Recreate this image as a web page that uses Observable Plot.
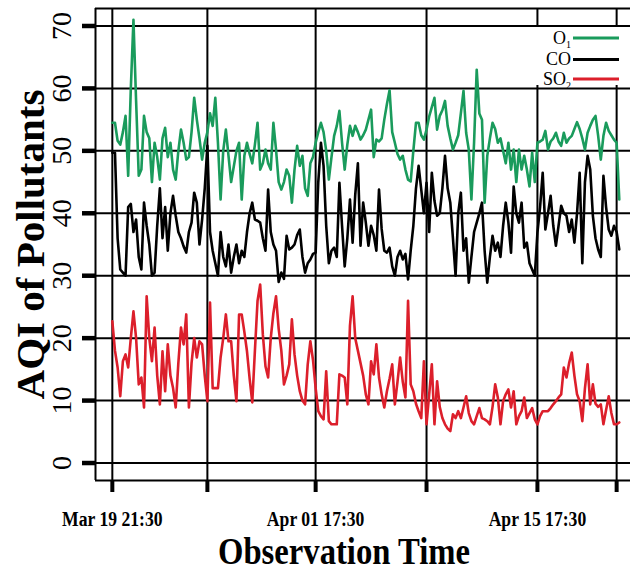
<!DOCTYPE html>
<html>
<head>
<meta charset="utf-8">
<script src="https://cdn.jsdelivr.net/npm/d3@7"></script>
<script src="https://cdn.jsdelivr.net/npm/@observablehq/plot@0.6"></script>
<style>
html, body { margin: 0; padding: 0; background: #fff; }
#wrap { position: relative; width: 630px; height: 571px; overflow: hidden; }
#legend { position: absolute; left: 532px; top: 27px; overflow: visible; }
</style>
</head>
<body>
<div id="wrap"></div>
<script>
// ---- data (AQI values, one observation every 4 hours) ----
const startTime = "2019-03-19T21:30Z";
const stepHours = 4;

const o3 = [54.5,54.5,51.6,51,53,55.6,46,60,71,58,
  46,47,55.6,53,52,45,51.3,49,45.4,52,
  53.7,49,51.3,47,45.4,50,53.4,51.3,48.6,49,
  53,58.5,55,52,48.6,51.3,53,56,54,58.5,
  51.3,42.2,50,53.4,49.2,45,47.5,50,51.3,42.2,
  49.2,51.3,49.5,48,51,54.5,47,48,50.2,48,
  47,54.5,50.2,45,43.8,45,47,46,41.7,47,
  50.8,47.6,49.2,44,42.8,48,49,51.3,53,54.5,
  53,50,45.4,49,52.4,54,56.4,51.3,47,51,
  54,52.4,54,53,51.8,52.5,53.4,55,56.6,49,
  51.8,51.5,52,55,57.5,59.7,53,51.3,49.5,48.6,
  49.2,47,45.4,45.1,50,54.5,54.5,52.5,51.8,53.4,
  55.5,57,58.5,53.4,55.6,56.5,58,54,52,50.2,
  51.3,52.5,56,59.6,52.9,50.2,42.2,51.3,63,56,
  55,41.7,49.2,52,54.5,53.5,51.3,52,50,48,
  51.3,47,50.2,45,50.2,47,49.2,47,44.3,49.7,
  45,51.3,51.5,51.8,53.2,50.2,51.5,52,52.9,51.5,
  50.8,52.9,51.3,52,52.4,53.5,54.6,53.5,52,50.2,
  52.9,54,55,55.6,52.4,48.6,52.4,54.5,53.2,52.5,
  51.8,51.3,42.2];

const co = [49.7,49.7,36,31,30.5,30,41,41.5,37,39,
  33,31,41.7,38,35,30,30.5,38,44,36,
  41,34,40,42.8,39.6,37,36,34.7,33.7,37,
  38.5,43.3,41.7,35,39,44,50.8,37,34,32,
  30,37,33,31.5,35,30.5,33,35,32,34,
  33,37,40,41.7,39,38.8,38.5,36,34,43.8,
  37,35,34,29,30.5,29.5,36.4,34.2,34.5,35,
  36.5,37.4,33,30.5,32,32.6,33.5,33.7,45,51.3,
  47.6,38,32,34,34.5,33,44.9,38,31.5,36,
  42.2,35.3,43,48,34.8,41.7,38.5,34.8,38,36.5,
  34,43.8,37.5,34,33.7,34.5,31.5,30,33,34,
  32.6,33.5,29.4,34,38,44,47.6,43.8,40,44.9,
  37,46.5,42,39.6,40,44,49.2,44,41.7,36,
  30,40,43.3,34,36,28.9,33,37,38.5,40,
  41.7,34,28.9,33,36.4,34,35.3,33,38,41.7,
  38.5,33.7,44.3,40,38.5,41.7,34.5,35.3,32,31,
  30,36.9,41,46.5,37.4,40,42.8,38,34.8,38,
  41.2,40,39.6,37,39,35.3,40,46.5,32,45,
  49.2,47,39.6,36,34.2,33,46,41,37.4,36.4,
  38,37,34.2];

const so2 = [22.7,18,15.3,10.7,16.3,17.4,15.3,20,24.3,20,
  12.6,13.7,8.9,26.7,20,16.3,21.7,14,9.4,17.9,
  11.5,19,14,12,8.9,16,21.7,19,23.8,8.9,
  16,20,16.9,19.5,19,14,9.9,25.7,12,12,
  12,16.9,20,23.8,19.5,19.5,14,9.9,23.8,23.8,
  21,17.9,13.5,9.7,18,26,28.6,20.6,15.5,13.7,
  20,24,26.7,21.5,18,12.6,14,15.8,23,17.4,
  14,11.5,10,9.4,15.8,19.5,16.5,12,8.3,7.5,
  7,14.7,6.7,6.2,6.2,6.2,14.2,14,13.7,9.4,
  22,26.7,20,18,16,14,11,9.4,16.3,14.2,
  19,13.7,11,8.9,11.5,13.5,15.8,9.4,13,16.9,
  13,10.5,26,12.6,11.5,9.5,8.3,7.2,16.3,6.2,
  11,15.8,6.2,13.1,9,7.2,6.2,5.5,5.1,7.8,
  7.2,8.3,7.2,8.9,10.7,8,6.7,6.2,7.5,8.8,
  7.2,7,6.7,6.2,9,12.6,10.5,6.2,9.9,11,
  11.8,8.9,11.5,6.2,7.5,8.3,10.5,7.2,8,8.8,
  7,6.2,7.5,8.3,8.3,8.3,8.8,9.4,9.9,10.5,
  11,15.3,13.7,16,17.7,14,11,9.9,6.7,12,
  15.8,9.4,12.6,9.5,9,9.4,6.2,8.5,10.7,8,
  6.2,6.2,6.5];

const yTicks = [0, 10, 20, 30, 40, 50, 60, 70];
const xTickTimes = ["2019-03-19T21:30Z", "2019-03-25T21:30Z", "2019-04-01T17:30Z",
                    "2019-04-08T17:30Z", "2019-04-15T17:30Z", "2019-04-20T17:30Z"];
const xTickLabels = ["Mar 19 21:30", "", "Apr 01 17:30", "", "Apr 15 17:30", ""];
const xDomainTimes = ["2019-03-18T20:00Z", "2019-04-21T14:30Z"];
const yDomain = [-2.8, 72.8];

const legendMain = ["O", "CO", "SO"];
const legendSub = ["1", "", "2"];
const colors = {o3: "#1a9b5c", co: "#000000", so2: "#dc1f2b"};
const legendColors = [colors.o3, colors.co, colors.so2];

const yTitle = "AQI of Pollutants";
const xTitle = "Observation Time";

// ---- build table ----
const t0 = Date.parse(startTime);
const rows = o3.map((v, i) => ({
  time: new Date(t0 + i * stepHours * 3600e3),
  o3: v, co: co[i], so2: so2[i]
}));
const xTicks = xTickTimes.map(d => new Date(d));
const labelMap = new Map(xTicks.map((d, i) => [+d, xTickLabels[i]]));
const xDomain = xDomainTimes.map(d => new Date(d));

const chart = Plot.plot({
  width: 630, height: 571,
  marginLeft: 95, marginRight: 0, marginTop: 8, marginBottom: 91,
  style: {fontFamily: "'Liberation Serif', 'Times New Roman', serif", background: "white", color: "black", overflow: "visible"},
  x: {type: "utc", domain: xDomain, axis: null},
  y: {domain: yDomain, axis: null},
  marks: [
    Plot.ruleY(yTicks, {stroke: "black", strokeWidth: 2}),
    Plot.ruleX(xTicks, {stroke: "black", strokeWidth: 2}),
    Plot.line(rows, {x: "time", y: "o3", stroke: colors.o3, strokeWidth: 2.6}),
    Plot.line(rows, {x: "time", y: "co", stroke: colors.co, strokeWidth: 2.6}),
    Plot.line(rows, {x: "time", y: "so2", stroke: colors.so2, strokeWidth: 2.6}),
    Plot.ruleX([xDomain[0]], {stroke: "black", strokeWidth: 2}),
    Plot.ruleY([yDomain[0]], {stroke: "black", strokeWidth: 2}),
    Plot.ruleY([yDomain[1]], {stroke: "black", strokeWidth: 2}),
    Plot.axisX({ticks: xTicks, tickSize: 12, tickPadding: 19, strokeWidth: 4,
      tickFormat: d => labelMap.get(+d) || "", fontSize: 21, fontWeight: "bold", label: null}),
    Plot.axisY({ticks: yTicks, tickSize: 13, strokeWidth: 4.5, tickFormat: () => "", label: null}),
    Plot.text(yTicks, {y: d => d, text: d => String(d), frameAnchor: "left", dx: -33, rotate: -90,
      fontSize: 28, lineAnchor: "middle", textAnchor: "middle"}),
    Plot.text([yTitle], {text: d => d, frameAnchor: "left", dx: -65, rotate: -90, fontSize: 41,
      fontWeight: "bold", lineAnchor: "middle", textAnchor: "middle"}),
    Plot.text([xTitle], {text: d => d, frameAnchor: "bottom", dy: 71, dx: -19, fontSize: 38,
      fontWeight: "bold", lineAnchor: "middle", textAnchor: "middle"})
  ]
});

function squish(sel, sx, sy) {
  sel.each(function() {
    const xa = this.getAttribute("x"), ya = this.getAttribute("y");
    let pre = "";
    if ((xa && !isNaN(+xa)) || (ya && !isNaN(+ya))) {
      pre = ` translate(${+xa || 0},${+ya || 0})`;
      if (xa && !isNaN(+xa)) this.removeAttribute("x");
      if (ya && !isNaN(+ya)) this.removeAttribute("y");
    }
    const t = this.getAttribute("transform") || "";
    this.setAttribute("transform", `${t}${pre} scale(${sx},${sy})`);
  });
}
const s = d3.select(chart);
const byText = str => s.selectAll("text").filter(function() { return this.textContent === str; });
xTickLabels.filter(d => d).forEach(l => squish(byText(l), 0.84, 1));
squish(byText(xTitle), 0.86, 1);

const wrap = document.getElementById("wrap");
wrap.appendChild(chart);

// ---- legend (inside the plot, top right) ----
const lg = d3.select(wrap).append("svg").attr("id", "legend")
  .attr("width", 98).attr("height", 58)
  .style("font-family", "'Liberation Serif', 'Times New Roman', serif");
lg.append("rect").attr("width", 98).attr("height", 58).attr("fill", "white");
const rowY = [10.5, 32, 51.5];
legendMain.forEach((m, i) => {
  const t = lg.append("text").attr("x", 39).attr("y", rowY[i] + 6)
    .attr("text-anchor", "end").attr("font-size", 18).attr("fill", "black");
  t.append("tspan").text(m);
  if (legendSub[i]) t.append("tspan").attr("font-size", 10).attr("dy", 4).text(legendSub[i]);
  lg.append("line").attr("x1", 41).attr("x2", 87).attr("y1", rowY[i] + 0.5).attr("y2", rowY[i] + 0.5)
    .attr("stroke", legendColors[i]).attr("stroke-width", 3);
});
</script>
</body>
</html>
